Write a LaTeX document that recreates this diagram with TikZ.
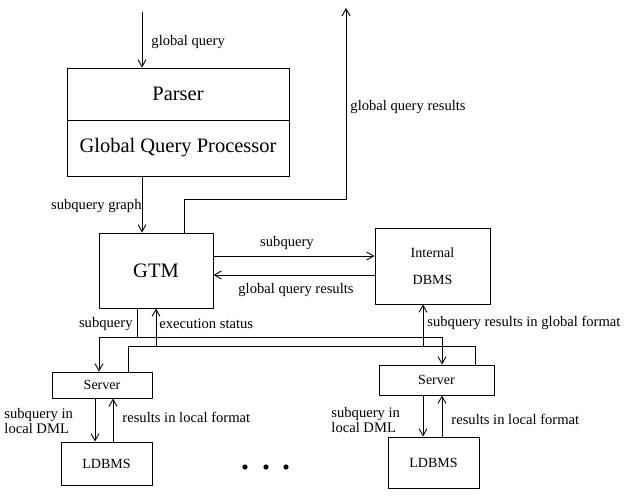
\documentclass[tikz,border=0pt]{standalone}
\usepackage{fontspec}
\setmainfont{Liberation Serif}
\usetikzlibrary{arrows.meta}
\begin{document}
\begin{tikzpicture}[x=1pt, y=-1pt, line join=round, line width=0.9pt,
    >={Straight Barb[length=7pt,width=8pt]},
    box/.style={draw, inner sep=0pt},
    big/.style={font=\fontsize{20.5}{22}\selectfont},
    small/.style={font=\fontsize{14}{15}\selectfont},
    lab/.style={font=\fontsize{14.6}{13}\selectfont, inner sep=1pt}]
\useasboundingbox (0,0) rectangle (628,497);

% boxes
\node[box, big, minimum width=222pt, minimum height=52pt] (parser) at (178,94) {Parser};
\node[box, big, minimum width=222pt, minimum height=56pt] (gqp) at (178,148) {Global Query Processor};
\node[box, big, minimum width=114pt, minimum height=75pt] (gtm) at (156,270.5) {GTM};
\node[box, small, align=center, font=\fontsize{14}{27}\selectfont,
      minimum width=115pt, minimum height=76pt] (idbms) at (432.5,266) {Internal\\DBMS};
\node[box, small, minimum width=100pt, minimum height=26pt] (srvl) at (102,385) {Server};
\node[box, small, minimum width=115pt, minimum height=30pt] (srvr) at (436.5,380) {Server};
\node[box, small, minimum width=91pt, minimum height=43pt] (ldbl) at (106.5,463.5) {LDBMS};
\node[box, small, minimum width=91pt, minimum height=51pt] (ldbr) at (433.5,462.5) {LDBMS};
\foreach \x in {245,266,286} \fill (\x,467) circle (2.6pt);

% free ends and bends
\coordinate (qin) at (142,12);
\coordinate (qout) at (346,8);
\coordinate (sqL) at (99,337);
\coordinate (sqR) at (442,337);
\coordinate (esL) at (128,346);
\coordinate (esR) at (475,346);

% connectors
\draw[->] (qin) -- (parser.north -| qin);
\draw[->] (gqp.south -| 142,0) -- (gtm.north -| 142,0);
\draw[->] (gtm.north -| 184,0) -- (184,199) -| (qout);
\draw[->] (gtm.east |- 0,256) -- (idbms.west |- 0,256);
\draw[->] (idbms.west |- 0,275) -- (gtm.east |- 0,275);
\draw (gtm.south -| 137,0) -- (137,337);
\draw (sqL) -- (sqR);
\draw[->] (sqL) -- (srvl.north -| sqL);
\draw[->] (sqR) -- (srvr.north -| sqR);
\draw (srvl.north -| esL) -- (esL) -- (esR) -- (srvr.north -| esR);
\draw[->] (156,346) -- (gtm.south -| 156,0);
\draw[->] (423,346) -- (idbms.south -| 423,0);
\draw[->] (srvl.south -| 95,0) -- (ldbl.north -| 95,0);
\draw[->] (ldbl.north -| 113,0) -- (srvl.south -| 113,0);
\draw[->] (srvr.south -| 423,0) -- (ldbr.north -| 423,0);
\draw[->] (ldbr.north -| 442,0) -- (srvr.south -| 442,0);

% labels
\node[lab, anchor=west] (lgq) at (150,42) {global query};
\node[lab, anchor=west] (lgqr) at (349,107) {global query results};
\node[lab, anchor=east] (lsg) at (143,206) {subquery graph};
\node[lab] (lsq) at (287,243) {subquery};
\node[lab] (lres) at (296,290) {global query results};
\node[lab, anchor=east] (lsq2) at (134,324) {subquery};
\node[lab, anchor=west] (les) at (158,324) {execution status};
\node[lab, anchor=west] (lsrg) at (426,323) {subquery results in global format};
\node[lab, anchor=west, align=left] (ldml1) at (3,421) {subquery in\\local DML};
\node[lab, anchor=west] (lrl1) at (121,417) {results in local format};
\node[lab, anchor=west, align=left] (ldml2) at (330,420) {subquery in\\local DML};
\node[lab, anchor=west] (lrl2) at (450,419) {results in local format};
\end{tikzpicture}
\end{document}
